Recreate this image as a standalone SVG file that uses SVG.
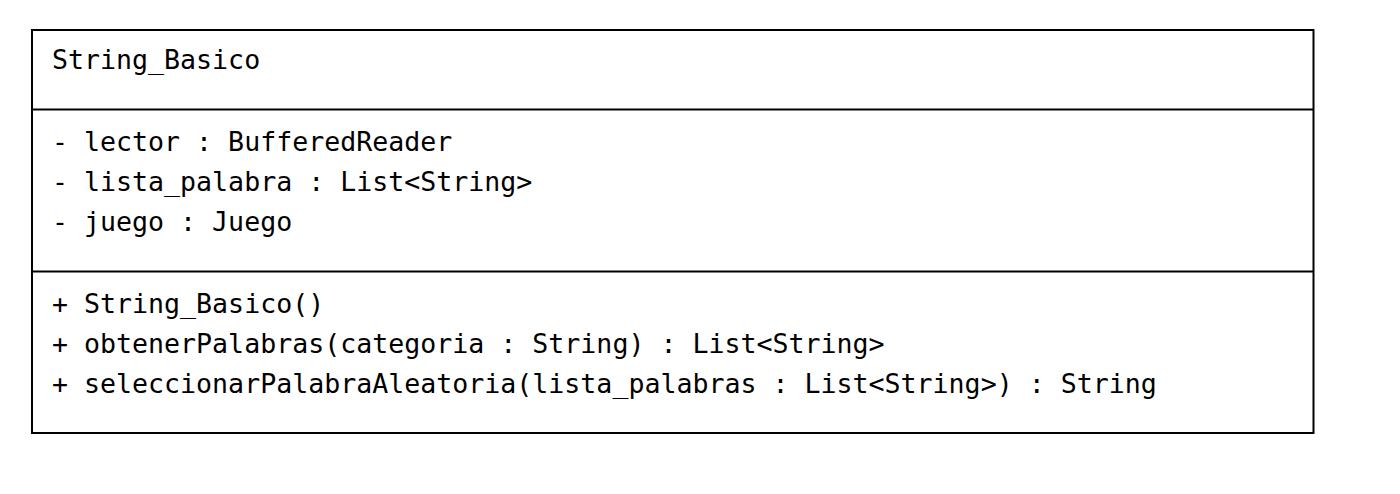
<svg xmlns="http://www.w3.org/2000/svg" width="1400" height="494" viewBox="0 0 1400 494">
<style>
.t{font-family:"DejaVu Sans Mono","Liberation Mono",monospace;font-size:26.6px;fill:#000}
.b{fill:#fff;stroke:#000;stroke-width:2}
.l{stroke:#000;stroke-width:2}
</style>
<rect width="1400" height="494" fill="#fff"/>
<g id="String_Basico">
<rect class="b" x="32" y="30" width="1281.5" height="403"/>
<line class="l" x1="32" y1="109.5" x2="1313.5" y2="109.5"/>
<line class="l" x1="32" y1="271.5" x2="1313.5" y2="271.5"/>
<text class="t" x="52" y="69">String_Basico</text>
<text class="t" x="52" y="151">- lector : BufferedReader</text>
<text class="t" x="52" y="191">- lista_palabra : List&lt;String&gt;</text>
<text class="t" x="52" y="231">- juego : Juego</text>
<text class="t" x="52" y="313">+ String_Basico()</text>
<text class="t" x="52" y="353">+ obtenerPalabras(categoria : String) : List&lt;String&gt;</text>
<text class="t" x="52" y="393">+ seleccionarPalabraAleatoria(lista_palabras : List&lt;String&gt;) : String</text>
</g>
<g id="connectors"></g>
</svg>
